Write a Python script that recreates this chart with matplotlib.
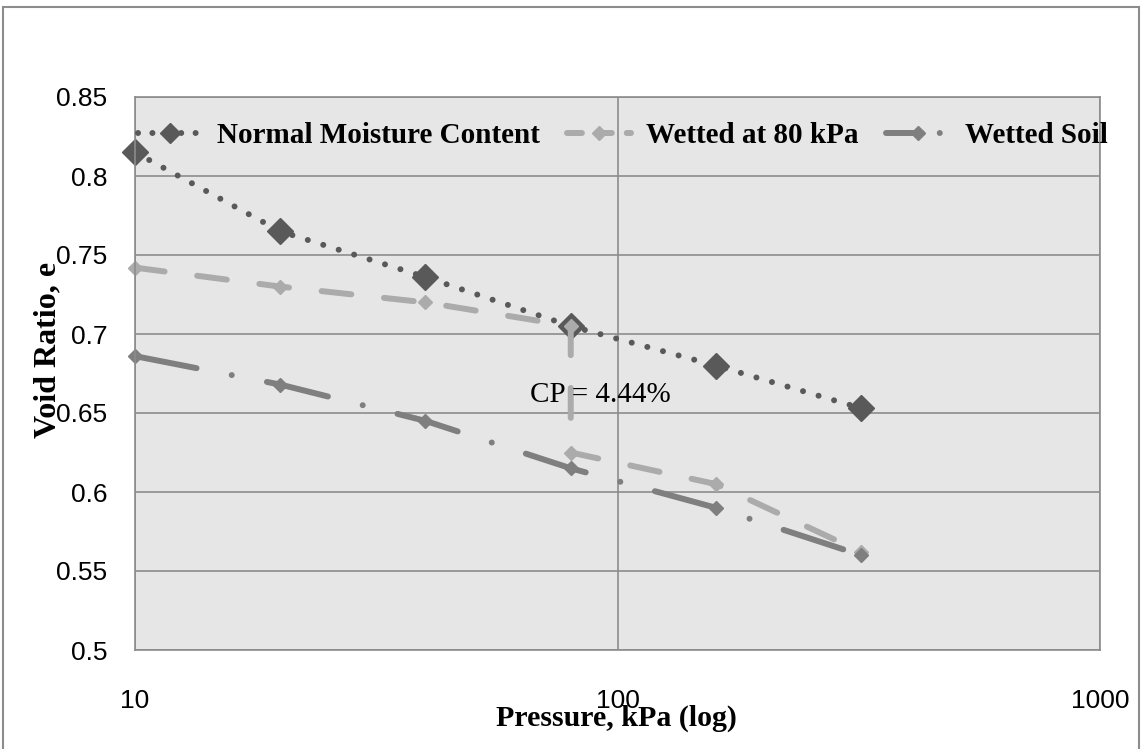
import numpy as np
import matplotlib
matplotlib.use('Agg')
import matplotlib.pyplot as plt
from matplotlib.patches import Rectangle

# Data
pressure_nmc = [10, 20, 40, 80, 160, 320]
void_nmc = [0.815, 0.765, 0.736, 0.705, 0.680, 0.653]

pressure_w80 = [10, 20, 40, 80, 80, 160, 320]
void_w80 = [0.742, 0.730, 0.720, 0.705, 0.625, 0.605, 0.562]

pressure_ws = [10, 20, 40, 80, 160, 320]
void_ws = [0.686, 0.668, 0.645, 0.615, 0.590, 0.560]

labels = ['Normal Moisture Content', 'Wetted at 80 kPa', 'Wetted Soil']
yticks = [0.5, 0.55, 0.6, 0.65, 0.7, 0.75, 0.8, 0.85]
xticks = [10, 100, 1000]

serif = 'Liberation Serif'
sans = 'Liberation Sans'

fig = plt.figure(figsize=(11.42, 7.49), dpi=100)
fig.patch.set_facecolor('white')
# outer chart border
fig.patches.append(Rectangle((3 / 1142, -0.05), 1136 / 1142, 1.05 - 7 / 749,
                             transform=fig.transFigure, fill=False,
                             edgecolor='#8C8C8C', linewidth=1.5))

ax = fig.add_axes([135 / 1142, 1 - 650 / 749, 965 / 1142, 553 / 749])
ax.set_facecolor('#E6E6E6')
ax.set_xscale('log')
ax.set_xlim(10, 1000)
ax.set_ylim(0.5, 0.85)
ax.set_xticks(xticks)
ax.set_xticklabels([str(t) for t in xticks])
ax.xaxis.set_minor_locator(matplotlib.ticker.NullLocator())
ax.set_yticks(yticks)
ax.set_yticklabels(['0.5', '0.55', '0.6', '0.65', '0.7', '0.75', '0.8', '0.85'])
ax.grid(True, color='#8C8C8C', linewidth=1.2)
ax.set_axisbelow(True)
for s in ax.spines.values():
    s.set_color('#8C8C8C')
    s.set_linewidth(1.2)
ax.tick_params(length=0, labelsize=19)
ax.tick_params(axis='y', pad=20)
ax.tick_params(axis='x', pad=28)
for lab in ax.get_xticklabels() + ax.get_yticklabels():
    lab.set_fontfamily(sans)

ax.plot(pressure_nmc, void_nmc, color='#595959', linewidth=4.3,
        linestyle=(0, (0.01, 2.7)), dash_capstyle='round',
        marker='D', markersize=13, label=labels[0], clip_on=False)
ax.plot(pressure_w80, void_w80, color='#ABABAB', linewidth=4.3,
        linestyle=(0, (5.0, 5.5)), dash_capstyle='round',
        marker='D', markersize=7, label=labels[1], clip_on=False)
ax.plot(pressure_ws, void_ws, color='#7F7F7F', linewidth=4.3,
        linestyle=(0, (10.5, 6, 0.01, 6)), dash_capstyle='round',
        marker='D', markersize=7, label=labels[2], clip_on=False)

ax.text(530 / 1142, 1 - 395 / 749, 'CP = 4.44%', transform=fig.transFigure,
        fontsize=21, family=serif, va='center', ha='left')

leg = ax.legend(loc='center left', bbox_to_anchor=(0.0, 0.93), ncol=3,
                frameon=False, handlelength=2.2, columnspacing=0.95,
                handletextpad=0.5, borderaxespad=0, borderpad=0.1,
                prop={'family': serif, 'weight': 'bold', 'size': 21})
# shorter dash patterns in the legend so each style shows in its handle
for h, ms, ls in zip(leg.legend_handles, [10, 7, 7],
                     [(0, (0.01, 2.4)), (0, (2.5, 2.5)), (0, (6, 3, 0.01, 3))]):
    h.set_markersize(ms)
    h.set_linestyle(ls)

fig.text(616 / 1142, 1 - 718 / 749, 'Pressure, kPa (log)', fontsize=21.5,
         family=serif, weight='bold', ha='center', va='center')
fig.text(48 / 1142, 1 - 350 / 749, 'Void Ratio, e', fontsize=23,
         family=serif, weight='bold', ha='center', va='center', rotation=90)

fig.savefig('out.png', dpi=100)
